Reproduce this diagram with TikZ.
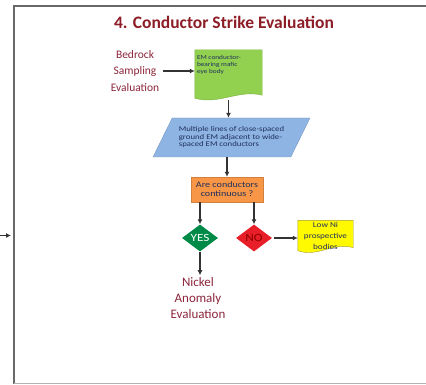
\documentclass[tikz,border=0pt]{standalone}
\usepackage{fontspec}
\setmainfont{Carlito}
\newfontfamily\widefont[FakeStretch=1.2]{Carlito}
\usetikzlibrary{arrows.meta,shapes.geometric,backgrounds,calc}

\definecolor{titlered}{RGB}{140,28,38}
\definecolor{evalred}{RGB}{140,38,58}
\definecolor{docgreen}{RGB}{146,208,80}
\definecolor{parblue}{RGB}{142,180,227}
\definecolor{condorange}{RGB}{247,150,70}
\definecolor{yesgreen}{RGB}{0,138,72}
\definecolor{nored}{RGB}{232,30,40}
\definecolor{lowyellow}{RGB}{255,250,0}
\definecolor{boxtext}{RGB}{32,48,92}
\definecolor{framegray}{RGB}{105,105,105}

\newcommand\docwave[2]{%
\filldraw[#2] (#1.north west) -- (#1.north east) -- ([yshift=3pt]#1.south east)
  .. controls ([yshift=9pt]$(#1.south west)!0.65!(#1.south east)$)
  and ([yshift=-7pt]$(#1.south west)!0.35!(#1.south east)$) .. (#1.south west) -- cycle;}

\begin{document}
\begin{tikzpicture}[x=1pt,y=-1pt,
every node/.style={inner sep=2pt},
redtext/.style={text=evalred,align=center,font=\fontsize{11.5}{16.5}\selectfont},
smalltext/.style={text=boxtext,font=\widefont\fontsize{7.3}{7.5}\selectfont},
conn/.style={draw=black!80,line width=1.2pt,-{Latex[length=5pt,width=5pt]}},
choice/.style={diamond,minimum width=36pt,minimum height=27pt,inner sep=0pt,
font=\widefont\fontsize{11}{12}\selectfont}]
\useasboundingbox (0,0) rectangle (426,385);
\draw[framegray,line width=1.8pt] (426,5.8) -- (13.8,5.8) -- (13.8,384);
\draw[black!30,line width=1.5pt] (13.8,383.3) -- (426,383.3);

\node[font=\fontsize{17.5}{20}\selectfont\bfseries,text=titlered] (title) at (224,22)
{4. Conductor Strike Evaluation};
\node[redtext] (bedrock) at (135,71) {Bedrock\\Sampling\\Evaluation};
\node[minimum width=67pt,minimum height=48pt,inner sep=0pt,
label={[anchor=north west,text=boxtext,font=\widefont\fontsize{6.1}{7}\selectfont,
align=left,inner sep=2pt,yshift=-3pt]north west:{EM conductor-\\bearing mafic\\eye body}}]
(emdoc) at (228.5,74) {};
\node[trapezium,trapezium left angle=55,trapezium right angle=125,trapezium stretches=true,
minimum width=157pt,minimum height=39pt,fill=parblue,draw=parblue!85!black,line width=0.4pt,
smalltext,align=left] (multi) at (231.5,137.5)
{Multiple lines of close-spaced\\ground EM adjacent to wide-\\spaced EM conductors};
\node[fill=condorange,draw=condorange!85!black,line width=0.4pt,text=boxtext,align=center,
minimum width=72pt,minimum height=25pt,font=\widefont\fontsize{8.4}{9}\selectfont] (cond) at (227,189.5)
{Are conductors\\continuous ?};
\node[choice,fill=yesgreen,text=white] (yes) at (200,238) {YES};
\node[choice,fill=nored,text=red!55!black] (no) at (254,238) {NO};
\node[minimum width=55pt,minimum height=30pt,inner sep=0pt,align=center,text=boxtext,
font=\widefont\fontsize{7.6}{11}\selectfont] (lowni) at (325.5,235.5) {Low Ni\\prospective\\bodies};
\node[redtext,font=\fontsize{13}{16}\selectfont] (nickel) at (198,298) {Nickel\\Anomaly\\Evaluation};

\begin{scope}[on background layer]
\docwave{emdoc}{fill=docgreen,draw=docgreen!85!black,line width=0.4pt}
\docwave{lowni}{fill=lowyellow,draw=olive!80,line width=0.4pt}
\end{scope}

\coordinate (offpage) at (0,235.5);
\coordinate (frameedge) at (11,235.5);
\draw[conn] (offpage) -- (frameedge);
\draw[conn,shorten <=2pt] (bedrock.east) -- (bedrock.east -| emdoc.west);
\draw[conn,shorten <=2pt] (emdoc.south) -- (emdoc.south |- multi.north);
\draw[conn] (cond.north |- multi.south) -- (cond.north);
\draw[conn] (cond.south -| yes.north) -- (yes.north);
\draw[conn] (cond.south -| no.north) -- (no.north);
\draw[conn,shorten <=2pt] (no.east) -- (no.east -| lowni.west);
\draw[conn] (yes.south) -- (yes.south |- nickel.north);
\end{tikzpicture}
\end{document}
